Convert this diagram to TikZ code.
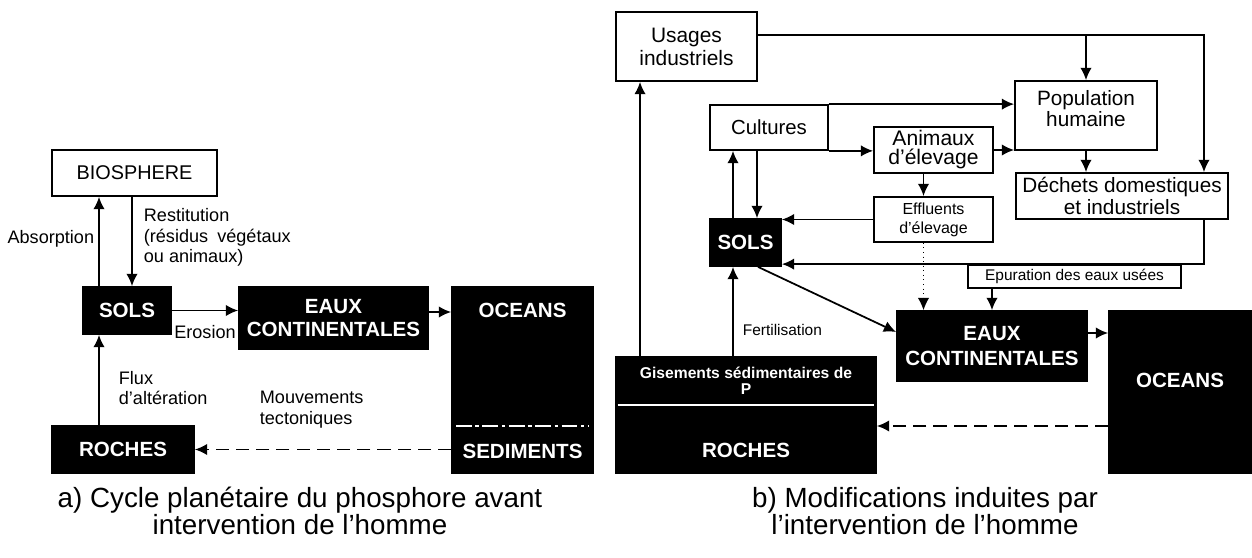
\documentclass[tikz,border=0pt]{standalone}
\usepackage{fontspec}
\setmainfont{Liberation Sans}
\usetikzlibrary{arrows.meta}

\begin{document}
\begin{tikzpicture}[x=0.02cm, y=-0.02cm, line width=1pt,
	wbox/.style={shape=rectangle, draw=black, fill=white, align=center, inner sep=0pt},
	bbox/.style={shape=rectangle, draw=black, fill=black, text=white, align=center, inner sep=0pt, font=\fontsize{11.7}{13}\selectfont\bfseries},
	btext/.style={text=white, inner sep=0pt, font=\fontsize{11.7}{13}\selectfont\bfseries},
	lbl/.style={inner sep=0pt, align=left, font=\fontsize{10.3}{11.8}\selectfont},
	arr/.style={-{Latex[length=7pt,width=6.5pt]}},
	tecto/.style={dash pattern=on 7.5pt off 4pt},
	caption/.style={align=center, inner sep=0pt, font=\fontsize{15.8}{15}\selectfont}]
	\useasboundingbox (0,0) rectangle (1252,558);

	% a) avant intervention
	\node[wbox, minimum width=3.3cm, minimum height=0.92cm, font=\fontsize{11.3}{13}\selectfont] (bio) at (134.5,173) {BIOSPHERE};
	\node[bbox, minimum width=1.76cm, minimum height=0.94cm] (solsA) at (127,310.5) {SOLS};
	\node[bbox, minimum width=3.78cm, minimum height=1.24cm] (eauxA) at (333.5,318) {EAUX\\CONTINENTALES};
	\node[bbox, minimum width=2.82cm, minimum height=3.72cm, label={[btext,yshift=1.4cm]center:OCEANS}, label={[btext,yshift=-1.42cm]center:SEDIMENTS}] (oceA) at (522.5,380) {};
	\node[bbox, minimum width=2.84cm, minimum height=0.94cm] (rochA) at (123,449.5) {ROCHES};
	\draw[white, line width=0.8pt, dash pattern=on 9pt off 2pt on 2pt off 2pt] ([shift={(0.1cm,-0.92cm)}]oceA.west) -- ([shift={(-0.1cm,-0.92cm)}]oceA.east);

	\coordinate (abs) at ([xshift=-0.56cm]solsA.north);
	\draw[arr] (abs) -- (abs |- bio.south);
	\coordinate (rest) at ([xshift=-0.05cm]bio.south);
	\draw[arr] (rest) -- (rest |- solsA.north);
	\draw[arr] (solsA.east) -- (solsA.east -| eauxA.west);
	\coordinate (eo1) at ([yshift=0.12cm]eauxA.east);
	\draw[arr] (eo1) -- (eo1 -| oceA.west);
	\coordinate (flux) at ([xshift=-0.48cm]rochA.north);
	\draw[arr] (flux) -- (flux |- solsA.south);
	\draw[arr, tecto] (oceA.west |- rochA.east) -- (rochA.east);

	\node[lbl, anchor=east] (absl) at (95,239) {Absorption};
	\node[lbl, anchor=west] (restl) at (143,237.5) {Restitution\\(résidus\enspace végétaux\\ou animaux)};
	\node[lbl] (erol) at (205,332) {Erosion};
	\node[lbl, anchor=west] (fluxl) at (118,388) {Flux\\d'altération};
	\node[lbl, anchor=west] (mvtl) at (259,409.5) {Mouvements\\tectoniques};

	% b) apres intervention
	\node[wbox, minimum width=2.82cm, minimum height=1.38cm, font=\fontsize{11.9}{13}\selectfont] (usages) at (686.5,46.5) {Usages\\industriels};
	\node[wbox, minimum width=2.36cm, minimum height=0.9cm, font=\fontsize{11.6}{13}\selectfont] (cult) at (769,127.5) {Cultures};
	\node[wbox, minimum width=2.38cm, minimum height=0.92cm, font=\fontsize{12}{10.8}\selectfont] (anim) at (933.5,150) {Animaux\\d'élevage};
	\node[wbox, minimum width=2.84cm, minimum height=1.38cm, label={[align=center, font=\fontsize{11.8}{10.2}\selectfont, yshift=0.13cm]center:Population\\humaine}] (pop) at (1086,115.5) {};
	\node[wbox, minimum width=4.24cm, minimum height=0.92cm, font=\fontsize{11.8}{10.2}\selectfont] (dech) at (1122,196) {Déchets domestiques\\et industriels};
	\node[wbox, minimum width=2.38cm, minimum height=0.9cm, font=\fontsize{9.1}{10.8}\selectfont] (eff) at (933.5,219.5) {Effluents\\d'élevage};
	\node[bbox, minimum width=1.42cm, minimum height=0.94cm] (solsB) at (745.5,242.5) {SOLS};
	\node[wbox, minimum width=4.26cm, minimum height=0.46cm, font=\fontsize{8.8}{10}\selectfont] (epur) at (1074.5,276.5) {Epuration des eaux usées};
	\node[bbox, minimum width=3.8cm, minimum height=1.4cm, font=\fontsize{11.7}{13.7}\selectfont\bfseries] (eauxB) at (992,346) {EAUX\\CONTINENTALES};
	\node[bbox, minimum width=2.84cm, minimum height=3.24cm, label={[btext, yshift=0.24cm]center:OCEANS}] (oceB) at (1180,392) {};
	\node[bbox, minimum width=5.2cm, minimum height=0.94cm, font=\fontsize{8.9}{9.1}\selectfont\bfseries] (gis) at (746,380.5) {Gisements sédimentaires de\\P};
	\node[bbox, minimum width=5.2cm, minimum height=1.38cm, label={[btext, yshift=-0.23cm]center:ROCHES}] (rochB) at (746,438.5) {};
	\draw[white, line width=0.8pt] ([xshift=0.05cm]gis.south west) -- ([xshift=-0.05cm]gis.south east);

	\coordinate (usg) at ([yshift=0.23cm]usages.east);
	\draw[arr] (usg) -| ([xshift=1.64cm]dech.north);
	\draw[arr] (usg -| pop.north) -- (pop.north);
	\coordinate (fgis) at ([xshift=-2.12cm]gis.north);
	\draw[arr] (fgis) -- (fgis |- usages.south);
	\coordinate (fert) at ([xshift=-0.26cm]gis.north);
	\draw[arr] (fert) -- (fert |- solsB.south);
	\coordinate (sc) at ([xshift=-0.25cm]solsB.north);
	\draw[arr] (sc) -- (sc |- cult.south);
	\coordinate (cs) at ([xshift=0.23cm]solsB.north);
	\draw[arr] (cs |- cult.south) -- (cs);
	\draw[arr] (cult.north east) -- (cult.north east -| pop.west);
	\draw[arr] (cult.south east) -- (cult.south east -| anim.west);
	\draw[arr] (anim.east) -- (anim.east -| pop.west);
	\draw[arr] (pop.south) -- (pop.south |- dech.north);
	\coordinate (ae) at ([xshift=-0.2cm]anim.south);
	\draw[arr] (ae) -- (ae |- eff.north);
	\draw[arr] (eff.west) -- (eff.west -| solsB.east);
	\draw[arr] ([xshift=1.64cm]dech.south) |- (epur.north -| solsB.east);
	\draw[arr] (epur.south -| eauxB.north) -- (eauxB.north);
	\draw[arr, line width=0.6pt, dotted] (ae |- eff.south) -- (ae |- eauxB.north);
	\draw[arr] ([xshift=0.25cm]solsB.south) -- ([yshift=0.28cm]eauxB.west);
	\coordinate (eo2) at ([yshift=0.26cm]eauxB.east);
	\draw[arr] (eo2) -- (eo2 -| oceB.west);
	\coordinate (ro) at ([yshift=0.25cm]rochB.east);
	\draw[arr, tecto] (ro -| oceB.west) -- (ro);

	\node[lbl, anchor=west, font=\fontsize{8.8}{10}\selectfont] (fertl) at (742,330) {Fertilisation};

	% legendes
	\node[caption] (capa) at (300,511) {a) Cycle planétaire du phosphore avant\\intervention de l'homme};
	\node[caption] (capb) at (925,511) {b) Modifications induites par\\l'intervention de l'homme};
\end{tikzpicture}
\end{document}
